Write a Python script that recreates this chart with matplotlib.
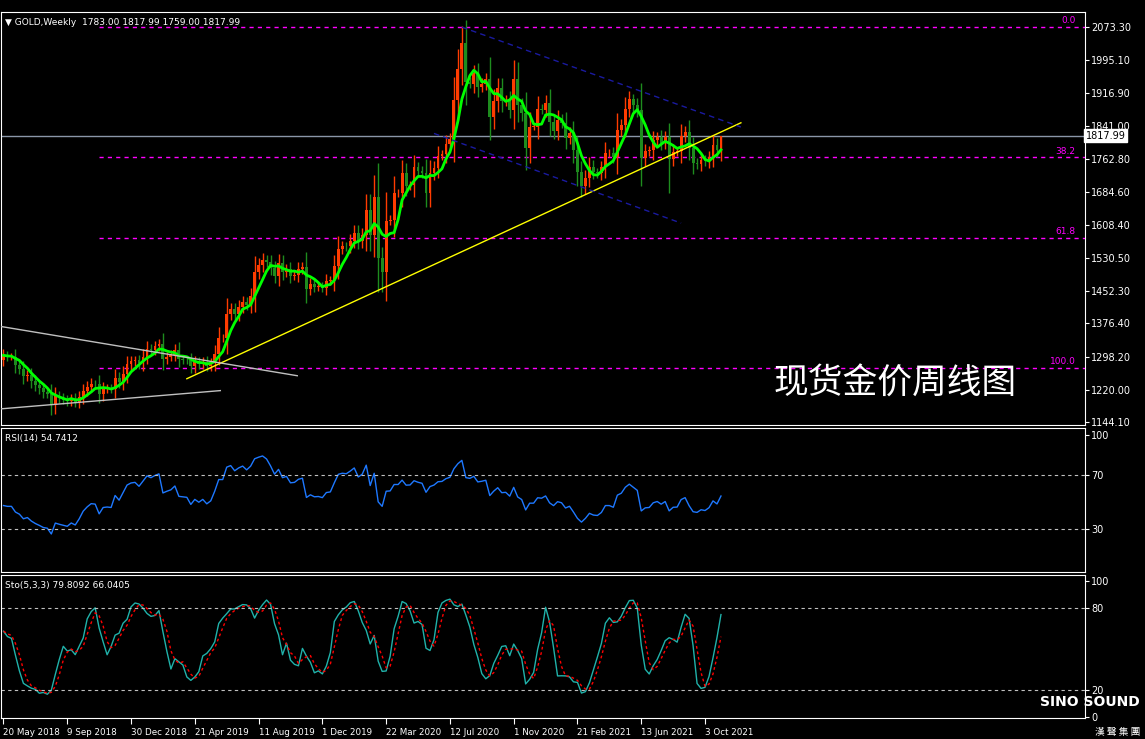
""" Gold weekly chart (MT4 style) with RSI and Stochastic"""

import matplotlib.pyplot as plt
import numpy as np
import pandas as pd

plt.rcParams['font.family'] = ['DejaVu Sans', 'Noto Sans CJK SC']

# weekly closes, week 0 = 20 May 2018
closes = [
    1301, 1298, 1298, 1278, 1270, 1252, 1255, 1241, 1231, 1223, 1214, 1211, 1184, 1206, 1201, 1197,
    1193, 1199, 1192, 1203, 1218, 1227, 1234, 1233, 1209, 1222, 1223, 1222, 1248, 1238, 1257, 1280,
    1287, 1289, 1282, 1298, 1317, 1314, 1322, 1328, 1293, 1298, 1302, 1313, 1292, 1291, 1290, 1275,
    1286, 1280, 1286, 1277, 1283, 1305, 1341, 1341, 1399, 1409, 1399, 1415, 1426, 1419, 1440, 1497,
    1513, 1526, 1520, 1506, 1488, 1517, 1497, 1504, 1488, 1490, 1504, 1509, 1458, 1468, 1462, 1463,
    1460, 1476, 1478, 1511, 1552, 1558, 1557, 1571, 1589, 1570, 1584, 1643, 1585, 1673, 1530, 1498,
    1617, 1620, 1683, 1683, 1729, 1700, 1702, 1743, 1735, 1730, 1683, 1729, 1742, 1771, 1774, 1798,
    1810, 1901, 1975, 2035, 1944, 1940, 1964, 1933, 1940, 1950, 1861, 1899, 1930, 1899, 1902, 1879,
    1951, 1889, 1871, 1788, 1839, 1839, 1881, 1878, 1895, 1849, 1829, 1855, 1848, 1813, 1823, 1783,
    1733, 1700, 1719, 1745, 1732, 1729, 1743, 1777, 1777, 1768, 1831, 1843, 1881, 1903, 1890, 1877,
    1764, 1781, 1783, 1808, 1815, 1801, 1814, 1763, 1780, 1781, 1817, 1827, 1788, 1754, 1750, 1761,
    1757, 1768, 1796, 1783, 1817.99,
]
first_open = 1291
# notable wick extremes {week: (high, low)}
wick_override = {115: (2075, None), 95: (None, 1451), 167: (None, 1684), 158: (1916, None), 180: (1817.99, 1759)}
# RSI averages carried in from before the first week
rsi_seed_gain, rsi_seed_loss = 9.0, 10.0

date_labels = ['20 May 2018', '9 Sep 2018', '30 Dec 2018', '21 Apr 2019', '11 Aug 2019', '1 Dec 2019',
               '22 Mar 2020', '12 Jul 2020', '1 Nov 2020', '21 Feb 2021', '13 Jun 2021', '3 Oct 2021']
price_ticks = [2073.30, 1995.10, 1916.90, 1841.00, 1762.80, 1684.60, 1608.40, 1530.50,
               1452.30, 1376.40, 1298.20, 1220.00, 1144.10]
fib_levels = [('0.0', 2073.3), ('38.2', 1766.8), ('61.8', 1577.5), ('100.0', 1271.0)]
# trend lines: (week0, price0, week1, price1)
yellow_line = (46, 1246, 185, 1848)
gray_lines = [(-0.75, 1369, 73.7, 1253), (-0.75, 1175, 54.4, 1218)]
channel_lines = [(115, 2073, 185, 1838), (108, 1823, 170, 1612)]
current_price = 1817.99

# build OHLC
df = pd.DataFrame({'close': closes})
df['open'] = df['close'].shift(1).fillna(first_open)
df.loc[180, 'open'] = 1783
body = (df['close'] - df['open']).abs()
df['high'] = df[['open', 'close']].max(axis=1) + 0.5 * body + 9
df['low'] = df[['open', 'close']].min(axis=1) - 0.5 * body - 9
for k, (h, l) in wick_override.items():
    if h is not None:
        df.loc[k, 'high'] = h
    if l is not None:
        df.loc[k, 'low'] = l
df['ma'] = df['close'].rolling(5, min_periods=1).mean()

# RSI(14), Wilder smoothing
delta = df['close'].diff().fillna(0)
g, l = rsi_seed_gain, rsi_seed_loss
rsi = []
for dv in delta:
    g = (g * 13 + max(dv, 0)) / 14
    l = (l * 13 + max(-dv, 0)) / 14
    rsi.append(100 - 100 / (1 + g / l))
df['rsi'] = rsi

# Stochastic(5,3,3)
hh = df['high'].rolling(5, min_periods=1).max()
ll = df['low'].rolling(5, min_periods=1).min()
num = (df['close'] - ll).rolling(3, min_periods=1).sum()
den = (hh - ll).rolling(3, min_periods=1).sum()
df['k'] = 100 * num / den
df['d'] = df['k'].rolling(3, min_periods=1).mean()

W, H = 1145, 739
fig = plt.figure(figsize=(W / 100, H / 100), dpi=100, facecolor='black')

def panel(top, bottom):
    ax = fig.add_axes([0.5 / W, 1 - bottom / H, 1084 / W, (bottom - top) / H])
    ax.set_facecolor('black')
    for s in ax.spines.values():
        s.set_color('white')
    ax.yaxis.tick_right()
    ax.tick_params(colors='white', labelsize=7, length=3, pad=2)
    ax.set_xlim(-0.75, 271.2)
    ax.set_xticks([])
    return ax

ax = panel(12, 425)
ax.set_ylim(1137.1, 2108.6)
ax.set_yticks(price_ticks)
ax.set_yticklabels([f'{p:.2f}' for p in price_ticks])

x = np.arange(len(df))
up = df['close'] >= df['open']
colors = np.where(up, '#ff3c00', '#1e8c1e')
ax.vlines(x, df['low'], df['high'], colors=colors, linewidth=1, zorder=2)
ax.bar(x, (df['close'] - df['open']).abs().clip(lower=0.8), bottom=df[['open', 'close']].min(axis=1),
       width=0.72, color=colors, zorder=3)
ax.plot(x, df['ma'], color='#00ff00', linewidth=2, zorder=4)

for name, lvl in fib_levels:
    ax.plot([24, 271.2], [lvl, lvl], color='#ff00ff', linestyle=(0, (3, 3)), linewidth=1, zorder=1)
    ax.text(269, lvl + 4, name, color='#ff00ff', fontsize=6.5, ha='right', va='bottom')

ax.axhline(current_price, color='#8a96a8', linewidth=1, zorder=1)
ax.text(1.001, current_price, f'{current_price:.2f}', transform=ax.get_yaxis_transform(),
        color='black', fontsize=7, va='center', ha='left',
        bbox=dict(facecolor='white', edgecolor='white', pad=1))

x0, y0, x1, y1 = yellow_line
ax.plot([x0, x1], [y0, y1], color='yellow', linewidth=1, zorder=5)
for x0, y0, x1, y1 in gray_lines:
    ax.plot([x0, x1], [y0, y1], color='#c0c0c0', linewidth=1, zorder=5)
for x0, y0, x1, y1 in channel_lines:
    ax.plot([x0, x1], [y0, y1], color='#1a1aa0', linestyle=(0, (4, 3)), linewidth=1, zorder=5)

ax.text(0.004, 0.985, '\u25bc GOLD,Weekly  1783.00 1817.99 1759.00 1817.99', transform=ax.transAxes,
        color='white', fontsize=6.5, va='top')
ax.text(0.713, 0.10, '现货金价周线图', transform=ax.transAxes, color='white', fontsize=25,
        family=['Noto Sans CJK SC'], va='center')

# RSI panel
ax2 = panel(428, 572)
ax2.set_ylim(-2.2, 105.2)
ax2.set_yticks([100, 70, 30])
ax2.plot(x, df['rsi'], color='#1e78ff', linewidth=1)
for lvl in (70, 30):
    ax2.axhline(lvl, color='#c0c0c0', linestyle=(0, (3, 3)), linewidth=0.8)
ax2.text(0.004, 0.96, "RSI(14) 54.7412", transform=ax2.transAxes,
         color='white', fontsize=6.5, va='top')

# Stochastic panel
ax3 = panel(575, 718)
ax3.set_ylim(-0.55, 104.4)
ax3.set_yticks([100, 80, 20, 0])
ax3.plot(x, df['k'], color='#20b2aa', linewidth=1)
ax3.plot(x, df['d'], color='red', linestyle=(0, (2, 2)), linewidth=1)
for lvl in (80, 20):
    ax3.axhline(lvl, color='#c0c0c0', linestyle=(0, (3, 3)), linewidth=0.8)
ax3.text(0.004, 0.96, "Sto(5,3,3) 79.8092 66.0405",
         transform=ax3.transAxes, color='white', fontsize=6.5, va='top')
ax3.set_xticks(np.arange(len(date_labels)) * 16)
ax3.set_xticklabels(date_labels, ha='left')
ax3.tick_params(axis='x', colors='white', labelsize=6.3, length=4, pad=3)

fig.text(1140 / W, 1 - 706 / H, 'SINO SOUND', color='white', fontsize=10, weight='bold', ha='right')
fig.text(1140 / W, 1 - 735 / H, '漢 聲 集 團', color='white', fontsize=7, ha='right',
         family=['Noto Sans CJK TC'])

fig.savefig('out.png', dpi=100, facecolor='black')
